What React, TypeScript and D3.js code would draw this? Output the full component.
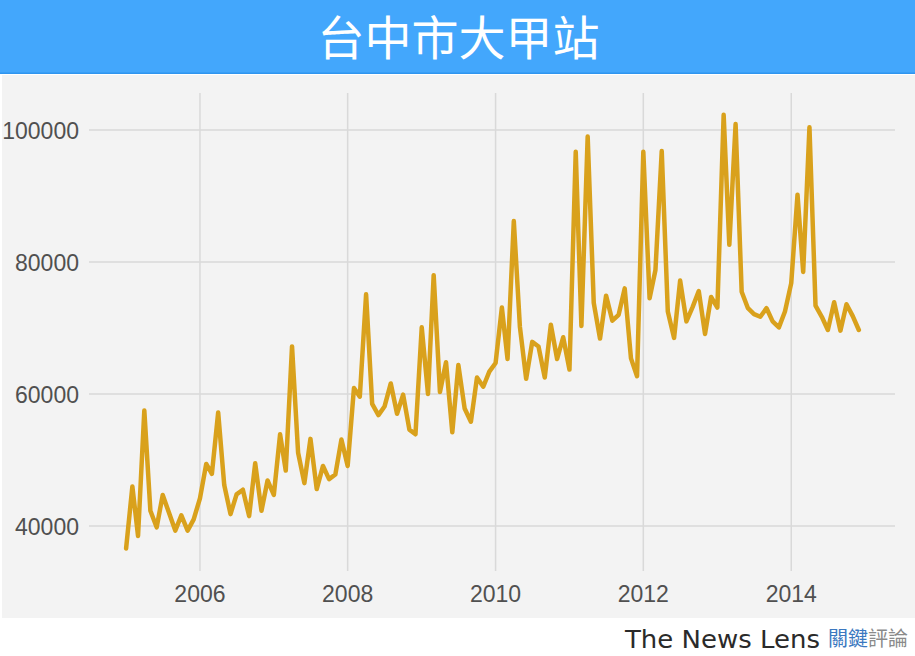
import React from "react";
import * as d3 from "d3";

const title = "台中市大甲站";
const startYear = 2005;
const values: number[] = [
  // 2005
  36600, 46000, 38500, 57500, 42300, 39800, 44700, 42000, 39300, 41600, 39300, 41000,
  // 2006
  44200, 49400, 47900, 57200, 46200, 41800, 44800, 45500, 41500, 49500, 42300, 46900,
  // 2007
  44700, 53900, 48400, 67200, 51100, 46500, 53200, 45600, 49100, 47100, 47800, 53100,
  // 2008
  49100, 60900, 59600, 75100, 58500, 56800, 58100, 61600, 57000, 59900, 54600, 53900,
  // 2009
  70100, 60000, 78000, 60300, 64800, 54200, 64400, 57800, 55800, 62500, 61100, 63400,
  // 2010
  64700, 73100, 65300, 86200, 70200, 62300, 67900, 67200, 62500, 70500, 65300, 68600,
  // 2011
  63700, 96700, 70300, 99000, 73800, 68400, 74900, 71100, 72000, 76000, 65400, 62700,
  // 2012
  96700, 74500, 78800, 96800, 72500, 68500, 77200, 71000, 73200, 75600, 69100, 74700,
  // 2013
  73100, 102300, 82600, 100900, 75500, 73000, 72100, 71700, 73000, 71000, 70100, 72500,
  // 2014
  76800, 90200, 78500, 100400, 73400, 71700, 69700, 73900, 69600, 73600, 71800, 69700,
];
const yTicks = [40000, 60000, 80000, 100000];
const xTickYears = [2006, 2008, 2010, 2012, 2014];

export default function App() {
  const W = 915;
  const H = 656;
  const x = d3
    .scaleTime()
    .domain([new Date(2005, 0, 1), new Date(2015, 0, 1)])
    .range([126.1, 126.1 + 73.9 * 10]);
  const y = d3.scaleLinear().domain([40000, 100000]).range([526, 130]);

  const data = values.map((v, i) => ({
    date: new Date(startYear + Math.floor(i / 12), i % 12, 1),
    v,
  }));
  const line = d3
    .line<{ date: Date; v: number }>()
    .x((d) => x(d.date))
    .y((d) => y(d.v));

  const gridLeft = 89;
  const gridRight = 895;
  const gridTop = 93;
  const gridBottom = 571;

  return (
    <div style={{ position: "fixed", left: 0, top: 0, width: W, height: H, background: "#fff" }}>
      <svg width={W} height={H} style={{ display: "block" }}>
        <rect x={0} y={0} width={W} height={H} fill="#ffffff" />
        {/* panel */}
        <rect x={2} y={75} width={W - 2} height={543} fill="#f3f3f3" />
        {/* title bar */}
        <rect x={0} y={0} width={W} height={74} fill="#43a7fc" />
        <rect x={0} y={72.5} width={W} height={1.5} fill="#2f95ef" />
        <text
          x={W / 2 + 1}
          y={55}
          textAnchor="middle"
          fill="#ffffff"
          fontFamily="'Noto Sans CJK TC', 'Noto Sans CJK SC', sans-serif"
          fontSize={47}
        >
          {title}
        </text>
        {/* grid */}
        {yTicks.map((t) => (
          <line
            key={"gy" + t}
            x1={gridLeft}
            x2={gridRight}
            y1={y(t)}
            y2={y(t)}
            stroke="#d9d9d9"
            strokeWidth={1.5}
          />
        ))}
        {xTickYears.map((yr) => (
          <line
            key={"gx" + yr}
            x1={x(new Date(yr, 0, 1))}
            x2={x(new Date(yr, 0, 1))}
            y1={gridTop}
            y2={gridBottom}
            stroke="#d9d9d9"
            strokeWidth={1.5}
          />
        ))}
        {/* y labels */}
        {yTicks.map((t) => (
          <text
            key={"ly" + t}
            x={79}
            y={y(t) + 8.5}
            textAnchor="end"
            fill="#505050"
            fontFamily="'Liberation Sans', Arial, sans-serif"
            fontSize={23}
          >
            {t}
          </text>
        ))}
        {/* x labels */}
        {xTickYears.map((yr) => (
          <text
            key={"lx" + yr}
            x={x(new Date(yr, 0, 1))}
            y={602}
            textAnchor="middle"
            fill="#505050"
            fontFamily="'Liberation Sans', Arial, sans-serif"
            fontSize={23}
          >
            {yr}
          </text>
        ))}
        {/* line */}
        <path
          d={line(data) || ""}
          fill="none"
          stroke="#d9a11c"
          strokeWidth={4.5}
          strokeLinejoin="round"
          strokeLinecap="round"
        />
        {/* logo */}
        <text
          x={625}
          y={648}
          fill="#2a2a2a"
          fontFamily="'DejaVu Sans', sans-serif"
          fontSize={25}
          textLength={195}
          lengthAdjust="spacingAndGlyphs"
        >
          The News Lens
        </text>
        <text
          x={828}
          y={646}
          fontFamily="'Noto Sans CJK TC', sans-serif"
          fontSize={20}
        >
          <tspan fill="#3b78c0">關鍵</tspan>
          <tspan fill="#8a8a8a">評論</tspan>
        </text>
      </svg>
    </div>
  );
}
